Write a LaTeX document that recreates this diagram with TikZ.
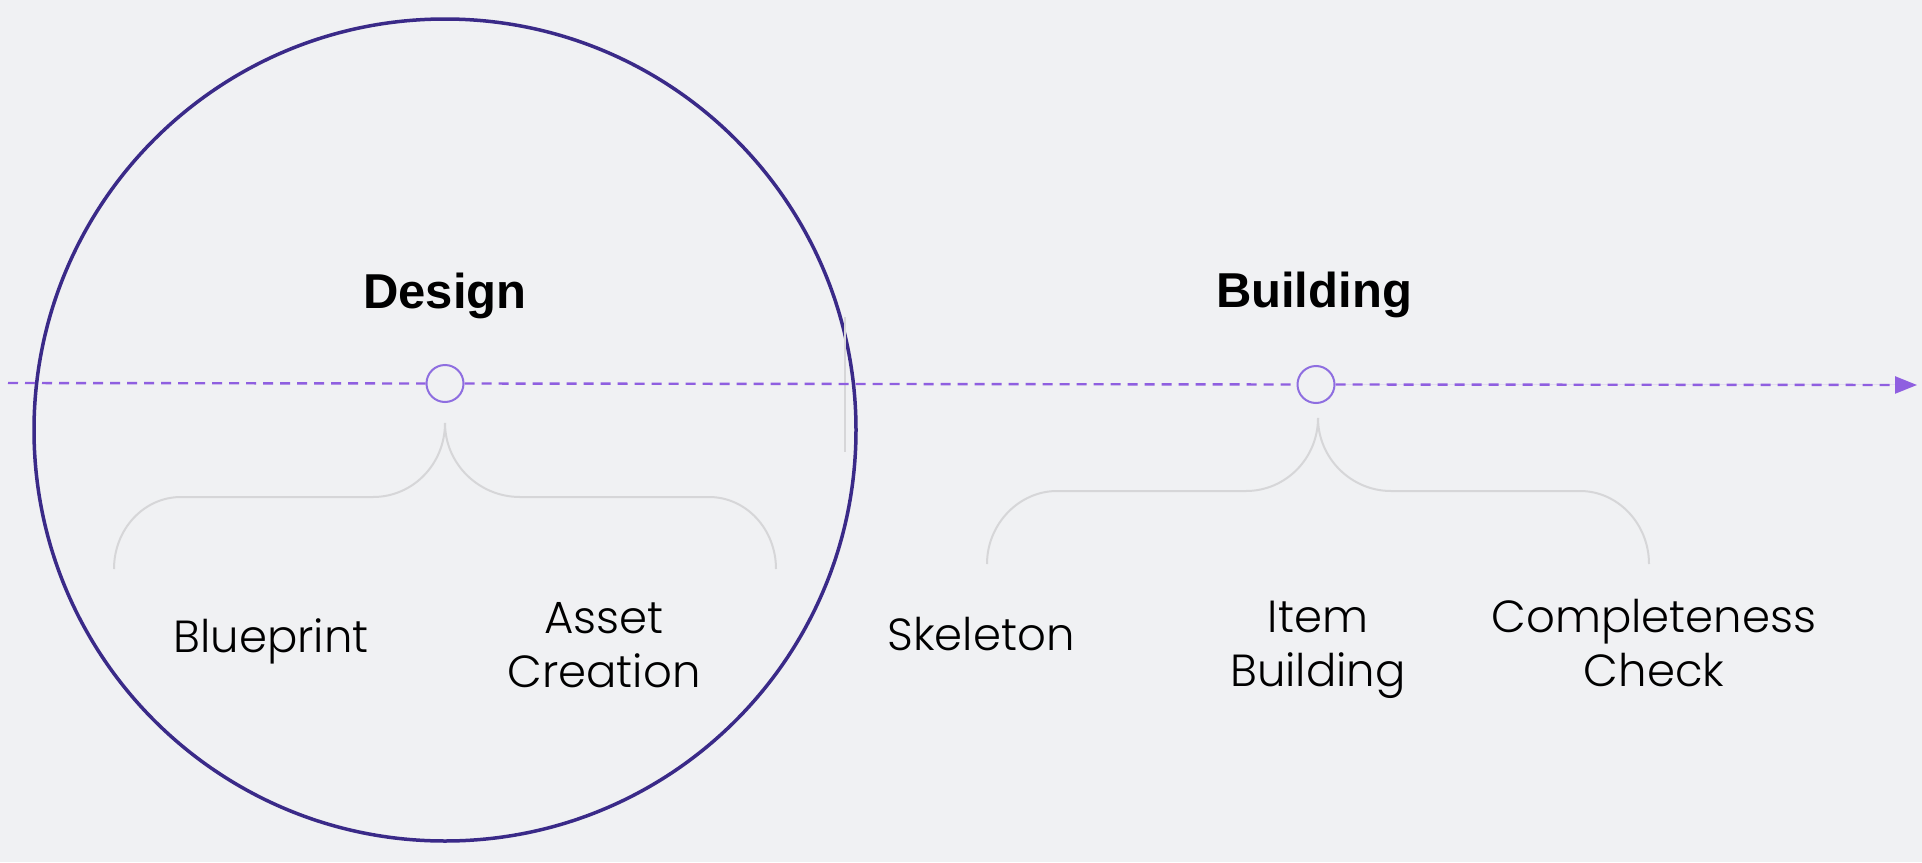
\documentclass[tikz,border=0pt]{standalone}
\usepackage{fontspec}
\setmainfont{Poppins}[UprightFont=* Light]
\newfontfamily\titlefont{Liberation Sans}[BoldFont=* Bold]
\usetikzlibrary{arrows.meta}
\definecolor{bgc}{HTML}{F0F1F3}
\definecolor{bigc}{HTML}{3A2A88}
\definecolor{linec}{HTML}{8F5FE0}
\definecolor{dotc}{HTML}{8E6EE0}
\definecolor{bracec}{HTML}{D6D6D8}
\tikzset{
  phase/.style={font=\titlefont\bfseries\fontsize{49}{58}\selectfont, anchor=base, inner sep=0pt},
  label/.style={font=\fontsize{45}{54}\selectfont, anchor=base, inner sep=0pt, align=center},
  milestone/.style={circle, draw=dotc, line width=2pt, minimum size=37pt, inner sep=0pt},
  timeline/.style={draw=linec, line width=2.4pt, dash pattern=on 10pt off 7pt},
  bracepath/.style={draw=bracec, line width=2pt},
}
\begin{document}
\begin{tikzpicture}[x=1pt,y=-1pt]
\fill[bgc] (0,0) rectangle (1922,862);
\useasboundingbox (0,0) rectangle (1922,862);

% big circle
\draw[bigc, line width=3.5pt] (445,430) circle[radius=411];

% faint vertical line
\draw[bracec, line width=2pt] (845,317) -- (845,452);

% milestones
\node[milestone] (m1) at (445,383.5) {};
\node[milestone] (m2) at (1316,384.5) {};
\coordinate (tstart) at (8,383);
\coordinate (tend) at (1917,385);

\draw[timeline] (tstart) -- (m1.west);
\draw[timeline] (m1.east) -- (m2.west);
\draw[timeline, -{Triangle[length=22pt,width=17pt]}, fill=linec] (m2.east) -- (tend);

% titles
\node[phase] (design) at (445,308) {Design};
\node[phase] (building) at (1314,307) {Building};

% braces
\coordinate (b1) at (445,423);
\draw[bracepath] (b1) .. controls (445,464) and (413,497) .. (373,497) -- (181,497)
   .. controls (144,497) and (114,529) .. (114,569);
\draw[bracepath] (b1) .. controls (445,464) and (479,497) .. (520,497) -- (709,497)
   .. controls (746,497) and (776,529) .. (776,569);
\coordinate (b2) at (1318,418);
\draw[bracepath] (b2) .. controls (1318,458) and (1286,491) .. (1246,491) -- (1057,491)
   .. controls (1019,491) and (987,524) .. (987,564);
\draw[bracepath] (b2) .. controls (1318,458) and (1351,491) .. (1391,491) -- (1580,491)
   .. controls (1618,491) and (1649,524) .. (1649,564);

% labels
\node[label] (blueprint) at (271,652) {Blueprint};
\node[label] (asset) at (604,687) {Asset\\Creation};
\node[label] (skeleton) at (981,650) {Skeleton};
\node[label] (item) at (1318,686) {Item\\Building};
\node[label] (check) at (1654,686) {Completeness\\Check};
\end{tikzpicture}
\end{document}
